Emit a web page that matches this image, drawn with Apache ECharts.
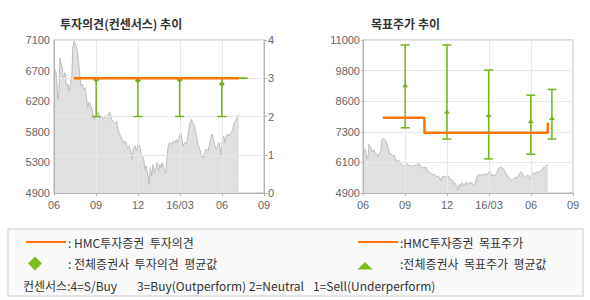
<!DOCTYPE html>
<html>
<head>
<meta charset="utf-8">
<script src="https://cdn.jsdelivr.net/npm/echarts@6/dist/echarts.min.js"></script>
<style>
html,body{margin:0;padding:0;background:#fff;}
#chart{width:590px;height:300px;}
</style>
</head>
<body>
<div id="chart"></div>
<script>
// ---- tick labels ----
var xTickLabels = ['06', '09', '12', '16/03', '06', '09'];
var opinionTickLabels = ['0', '1', '2', '3', '4'];
var leftPriceTickLabels = ['4900', '5300', '5800', '6200', '6700', '7100'];
var rightPriceTickLabels = ['4900', '6100', '7300', '8600', '9800', '11000'];

// ---- stock price ----
var priceDates = [
'2015-06-02','2015-06-05','2015-06-08','2015-06-09','2015-06-12','2015-06-14','2015-06-16','2015-06-19','2015-06-21','2015-06-25',
'2015-06-28','2015-07-01','2015-07-04','2015-07-07','2015-07-10','2015-07-12','2015-07-15','2015-07-18','2015-07-21','2015-07-24',
'2015-07-27','2015-07-30','2015-08-02','2015-08-05','2015-08-08','2015-08-11','2015-08-13','2015-08-16','2015-08-19','2015-08-22',
'2015-08-25','2015-08-28','2015-08-31','2015-09-03','2015-09-06','2015-09-09','2015-09-13','2015-09-17','2015-09-20','2015-09-24',
'2015-09-28','2015-10-01','2015-10-05','2015-10-09','2015-10-12','2015-10-16','2015-10-18','2015-10-21','2015-10-24','2015-10-28',
'2015-11-01','2015-11-04','2015-11-08','2015-11-12','2015-11-15','2015-11-19','2015-11-21','2015-11-25','2015-11-28','2015-12-02',
'2015-12-05','2015-12-08','2015-12-11','2015-12-14','2015-12-16','2015-12-19','2015-12-22','2015-12-25','2015-12-28','2015-12-31',
'2016-01-03','2016-01-06','2016-01-09','2016-01-12','2016-01-15','2016-01-18','2016-01-20','2016-01-23','2016-01-27','2016-01-31',
'2016-02-02','2016-02-05','2016-02-08','2016-02-12','2016-02-16','2016-02-19','2016-02-23','2016-02-26','2016-03-01','2016-03-04',
'2016-03-08','2016-03-12','2016-03-16','2016-03-19','2016-03-23','2016-03-27','2016-03-29','2016-04-01','2016-04-03','2016-04-07',
'2016-04-10','2016-04-14','2016-04-17','2016-04-21','2016-04-25','2016-04-28','2016-05-02','2016-05-06','2016-05-09','2016-05-11',
'2016-05-14','2016-05-17','2016-05-20','2016-05-23','2016-05-26','2016-05-29','2016-05-31','2016-06-02','2016-06-05','2016-06-08',
'2016-06-11','2016-06-14','2016-06-17','2016-06-20','2016-06-23','2016-06-25','2016-06-28','2016-07-01','2016-07-04','2016-07-06',
'2016-07-08'
];
var priceValues = [
6680,6655,6440,6250,6340,6845,6775,6700,6535,6630,
6440,6465,6365,6485,6585,6990,7085,7040,6965,6820,
6605,6440,6465,6390,6415,6270,6125,6200,6180,6125,
6030,5960,6005,6030,6065,5985,6005,5960,6015,5985,
6045,6065,5960,5910,5890,5935,5840,5765,5720,5670,
5625,5645,5550,5575,5505,5385,5550,5575,5505,5600,
5575,5455,5430,5385,5240,5290,5190,5025,5265,5145,
5310,5190,5265,5335,5215,5310,5265,5335,5240,5190,
5385,5575,5625,5600,5645,5625,5670,5625,5720,5765,
5575,5625,5600,5720,5890,5960,5910,5890,5840,5720,
5600,5530,5455,5405,5480,5530,5505,5625,5720,5745,
5670,5575,5530,5575,5625,5505,5430,5670,5720,5625,
5720,5745,5720,5765,5790,5815,5910,5935,5985,6015,
6030
];

// ---- HMC 투자의견 / 목표주가 ----
var hmcOpinionDates = ['2015-07-14', '2016-07-08'];
var hmcOpinionValues = [3, 3];
var hmcTargetDates = ['2015-07-14', '2015-10-13', '2016-07-08'];
var hmcTargetValues = [7900, 7300, 7700];

// ---- 전체증권사 consensus ----
var consensusDates = ['2015-09-01', '2015-12-01', '2016-03-01', '2016-06-01', '2016-07-17'];
var opinionMin = [2, 2, 2, 2, 3];
var opinionMax = [3, 3, 3, 3, 3];
var opinionAvg = [2.96, 2.94, 2.96, 2.85, null];
var targetMin = [7500, 7050, 6260, 6450, 7050];
var targetMax = [10800, 10800, 9800, 8800, 9030];
var targetAvg = [9180, 8130, 7990, 7750, 7870];

// ---------------------------------------------------------------
var ORANGE = '#ff7500', GREEN = '#74b21a', AXIS = '#b4b4b4', GRIDC = '#e8e8e8', LABEL = '#666';
var NUMFONT = 'Liberation Sans', KFONT = 'Noto Sans CJK KR';
function t(s) { return Date.parse(s + 'T00:00:00Z'); }
var xMin = t('2015-06-01'), xMax = t('2016-09-01'), xStep = (xMax - xMin) / 5;

function pairs(dates, vals) { return dates.map(function (d, i) { return [t(d), vals[i]]; }); }
function bars(mins, maxs, avgs) {
  return consensusDates.map(function (d, i) { return [t(d), mins[i], maxs[i], avgs[i]]; });
}

function errorBar(marker) {
  return function (params, api) {
    var x = api.value(0), lo = api.value(1), hi = api.value(2), avg = api.value(3);
    var pLo = api.coord([x, lo]), pHi = api.coord([x, hi]);
    var h = 4.5;
    var st = { stroke: GREEN, lineWidth: 1.5, fill: null };
    var ch = [
      { type: 'line', shape: { x1: pLo[0], y1: pLo[1], x2: pHi[0], y2: pHi[1] }, style: st },
      { type: 'line', shape: { x1: pLo[0] - h, y1: pLo[1], x2: pLo[0] + h, y2: pLo[1] }, style: st },
      { type: 'line', shape: { x1: pHi[0] - h, y1: pHi[1], x2: pHi[0] + h, y2: pHi[1] }, style: st }
    ];
    if (!isNaN(avg) && avg != null) {
      var p = api.coord([x, avg]);
      var pts = marker === 'diamond'
        ? [[p[0], p[1] - 3], [p[0] + 3, p[1]], [p[0], p[1] + 3], [p[0] - 3, p[1]]]
        : [[p[0], p[1] - 2.5], [p[0] + 3, p[1] + 1.5], [p[0] - 3, p[1] + 1.5]];
      ch.push({ type: 'polygon', shape: { points: pts }, style: { fill: GREEN } });
    }
    return { type: 'group', children: ch };
  };
}

function xAxisCfg(gi) {
  return {
    type: 'value', gridIndex: gi, min: xMin, max: xMax, interval: xStep, z: 3,
    axisLine: { show: true, lineStyle: { color: AXIS } },
    axisTick: { show: true, length: 3, lineStyle: { color: AXIS } },
    axisLabel: { color: LABEL, fontSize: 11, fontFamily: NUMFONT, margin: 6,
      formatter: function (v) { return xTickLabels[Math.round((v - xMin) / xStep)]; } },
    splitLine: { show: true, lineStyle: { color: GRIDC } }
  };
}

var option = {
  animation: false,
  backgroundColor: '#fff',
  title: [
    { text: '투자의견(컨센서스) 추이', left: 55, top: 12,
      textStyle: { fontSize: 12, fontWeight: 'bold', color: '#333', fontFamily: KFONT } },
    { text: '목표주가 추이', left: 366, top: 12,
      textStyle: { fontSize: 12, fontWeight: 'bold', color: '#333', fontFamily: KFONT } }
  ],
  grid: [
    { left: 54, top: 40, width: 210, height: 153, show: true, borderColor: AXIS, borderWidth: 1, backgroundColor: 'transparent' },
    { left: 363, top: 40, width: 210, height: 153, show: true, borderColor: AXIS, borderWidth: 1, backgroundColor: 'transparent' }
  ],
  xAxis: [xAxisCfg(0), xAxisCfg(1)],
  yAxis: [
    { type: 'value', gridIndex: 0, position: 'left', min: 4900, max: 7100, interval: 440, z: 3,
      axisLine: { show: true, lineStyle: { color: AXIS } }, axisTick: { show: false },
      splitLine: { show: false },
      axisLabel: { color: LABEL, fontSize: 11, fontFamily: NUMFONT, margin: 4,
        formatter: function (v) { return leftPriceTickLabels[Math.round((v - 4900) / 440)]; } } },
    { type: 'value', gridIndex: 0, position: 'right', min: 0, max: 4, interval: 1, z: 3,
      axisLine: { show: true, lineStyle: { color: AXIS } },
      axisTick: { show: true, length: 3, lineStyle: { color: AXIS } },
      splitLine: { show: true, lineStyle: { color: GRIDC } },
      axisLabel: { color: LABEL, fontSize: 11, fontFamily: NUMFONT, margin: 4,
        formatter: function (v) { return opinionTickLabels[Math.round(v)]; } } },
    { type: 'value', gridIndex: 1, position: 'left', min: 4900, max: 11000, interval: 1220, z: 3,
      axisLine: { show: true, lineStyle: { color: AXIS } },
      axisTick: { show: true, length: 2, lineStyle: { color: AXIS } },
      splitLine: { show: true, lineStyle: { color: GRIDC } },
      axisLabel: { color: LABEL, fontSize: 11, fontFamily: NUMFONT, margin: 3,
        formatter: function (v) { return rightPriceTickLabels[Math.round((v - 4900) / 1220)]; } } }
  ],
  series: [
    { type: 'line', xAxisIndex: 0, yAxisIndex: 0, z: 1, data: pairs(priceDates, priceValues),
      showSymbol: false, lineStyle: { color: '#bdbdbd', width: 1 },
      areaStyle: { color: '#e0e0e0', opacity: 1, origin: 'start' } },
    { type: 'line', xAxisIndex: 1, yAxisIndex: 2, z: 1, data: pairs(priceDates, priceValues),
      showSymbol: false, lineStyle: { color: '#bdbdbd', width: 1 },
      areaStyle: { color: '#e0e0e0', opacity: 1, origin: 'start' } },
    { type: 'custom', xAxisIndex: 0, yAxisIndex: 1, z: 5, data: bars(opinionMin, opinionMax, opinionAvg),
      encode: { x: 0, y: [1, 2] }, renderItem: errorBar('diamond') },
    { type: 'custom', xAxisIndex: 1, yAxisIndex: 2, z: 5, data: bars(targetMin, targetMax, targetAvg),
      encode: { x: 0, y: [1, 2] }, renderItem: errorBar('triangle') },
    { type: 'line', xAxisIndex: 0, yAxisIndex: 1, z: 6, data: pairs(hmcOpinionDates, hmcOpinionValues),
      showSymbol: false, lineStyle: { color: ORANGE, width: 2.5 } },
    { type: 'line', xAxisIndex: 1, yAxisIndex: 2, z: 6, data: pairs(hmcTargetDates, hmcTargetValues),
      step: 'end', showSymbol: false, lineStyle: { color: ORANGE, width: 2.5 } }
  ],
  graphic: [
    { type: 'rect', shape: { x: 8, y: 229, width: 575, height: 67 }, style: { fill: '#fafafa', stroke: '#dcdcdc', lineWidth: 1.5 }, z: 0 },
    { type: 'line', shape: { x1: 26, y1: 242, x2: 66, y2: 242 }, style: { stroke: ORANGE, lineWidth: 2 } },
    { type: 'text', x: 68, y: 242, style: { text: ': HMC투자증권  투자의견', fill: '#333', fontSize: 12, fontFamily: KFONT, verticalAlign: 'middle' } },
    { type: 'polygon', shape: { points: [[35, 256.5], [42, 263.5], [35, 270.5], [28, 263.5]] }, style: { fill: '#7dbe1a' } },
    { type: 'text', x: 68, y: 263.5, style: { text: ': 전체증권사  투자의견  평균값', fill: '#333', fontSize: 12, fontFamily: KFONT, verticalAlign: 'middle' } },
    { type: 'line', shape: { x1: 358, y1: 242, x2: 398, y2: 242 }, style: { stroke: ORANGE, lineWidth: 2 } },
    { type: 'text', x: 400, y: 242, style: { text: ':HMC투자증권  목표주가', fill: '#333', fontSize: 12, fontFamily: KFONT, verticalAlign: 'middle' } },
    { type: 'polygon', shape: { points: [[365, 262], [372.5, 269.5], [357.5, 269.5]] }, style: { fill: '#7dbe1a' } },
    { type: 'text', x: 400, y: 263.5, style: { text: ':전체증권사  목표주가  평균값', fill: '#333', fontSize: 12, fontFamily: KFONT, verticalAlign: 'middle' } },
    { type: 'text', x: 23, y: 285, style: { text: '컨센서스:4=S/Buy', fill: '#333', fontSize: 12, fontFamily: KFONT, verticalAlign: 'middle' } },
    { type: 'text', x: 137, y: 285, style: { text: '3=Buy(Outperform)', fill: '#333', fontSize: 12, fontFamily: KFONT, verticalAlign: 'middle' } },
    { type: 'text', x: 249, y: 285, style: { text: '2=Neutral', fill: '#333', fontSize: 12, fontFamily: KFONT, verticalAlign: 'middle' } },
    { type: 'text', x: 313, y: 285, style: { text: '1=Sell(Underperform)', fill: '#333', fontSize: 12, fontFamily: KFONT, verticalAlign: 'middle' } }
  ]
};

var chart = echarts.init(document.getElementById('chart'), null, { renderer: 'svg' });
chart.setOption(option);
</script>
</body>
</html>
